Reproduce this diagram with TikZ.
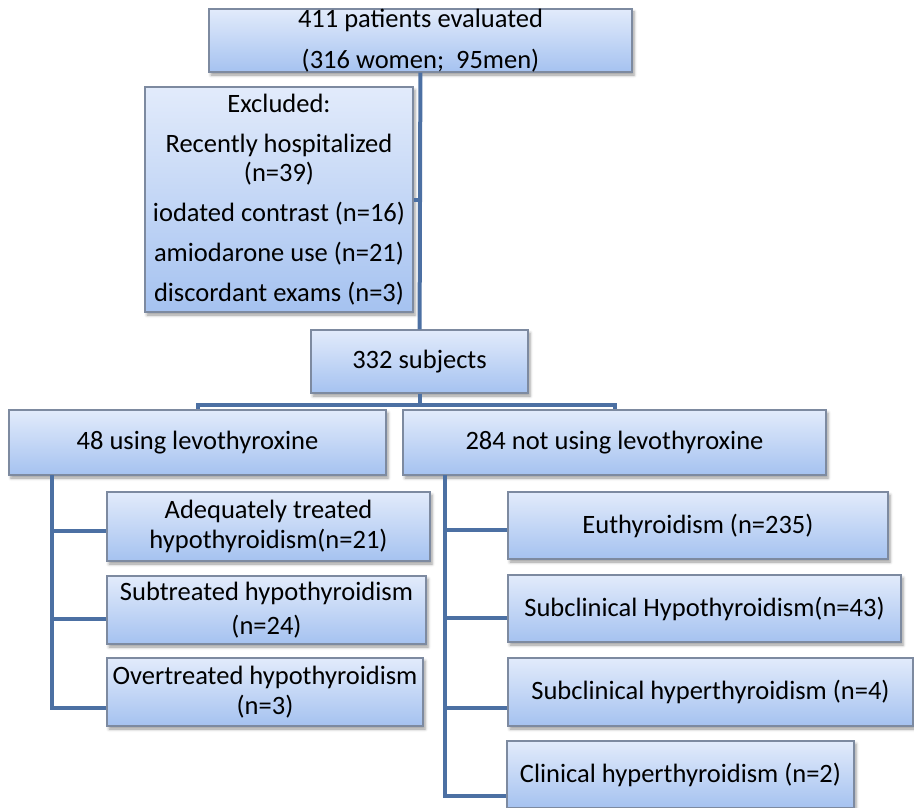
\documentclass[tikz,border=0pt]{standalone}
\usepackage{fontspec}
\setmainfont{Carlito}
\usetikzlibrary{positioning}
\usetikzlibrary{shadows.blur}
\definecolor{conncol}{RGB}{76,112,163}
\definecolor{boxtop}{RGB}{226,235,251}
\definecolor{boxbot}{RGB}{165,194,240}
\definecolor{boxedge}{RGB}{125,138,160}
\tikzset{
    % flow chart boxes
    box/.style = {draw=boxedge, line width=1.2pt, top color=boxtop, bottom color=boxbot,
                  align=center, inner sep=0pt, font=\fontsize{26.5}{30}\selectfont,
                  blur shadow={shadow xshift=2pt, shadow yshift=-3pt, shadow blur radius=3pt}},
    conn/.style = {draw=conncol, line width=4pt},
}
\begin{document}
\begin{tikzpicture}[x=1pt, y=-1pt]
  \useasboundingbox (0,0) rectangle (914,807);
  \node[box, minimum width=423pt, minimum height=62pt,
        font=\fontsize{26.5}{41}\selectfont] (eval) at (420.5,40.5)
        {411 patients evaluated\\(316 women;\ \ 95men)};
  \node[box, minimum width=268pt, minimum height=225pt,
        font=\fontsize{26.5}{40}\selectfont] (excl) at (279,199.5)
        {Excluded:\\Recently hospitalized\\[-11pt](n=39)\\iodated contrast (n=16)\\amiodarone use (n=21)\\discordant exams (n=3)};
  \node[box, minimum width=217pt, minimum height=63pt] (subj) at (419.5,361.5) {332 subjects};
  \node[box, minimum width=377pt, minimum height=65pt] (lev) at (197.5,442.5) {48 using levothyroxine};
  \node[box, minimum width=423pt, minimum height=65pt] (nolev) at (614.5,442.5) {284 not using levothyroxine};
  % levothyroxine users
  \node[box, minimum width=323pt, minimum height=69pt] (adeq) at (268.5,526.5) {Adequately treated\\hypothyroidism(n=21)};
  \node[box, minimum width=319pt, minimum height=68pt, font=\fontsize{26.5}{34}\selectfont] (subtr) at (266.5,610) {Subtreated hypothyroidism\\(n=24)};
  \node[box, minimum width=316pt, minimum height=68pt] (overtr) at (265,692) {Overtreated hypothyroidism\\(n=3)};
  % non users
  \node[box, minimum width=380pt, minimum height=67pt] (eu) at (698,525.5) {Euthyroidism (n=235)};
  \node[box, minimum width=393pt, minimum height=67pt] (subhypo) at (704.5,608.5) {Subclinical Hypothyroidism(n=43)};
  \node[box, minimum width=405pt, minimum height=68pt] (subhyper) at (710.5,692) {Subclinical hyperthyroidism (n=4)};
  \node[box, minimum width=347pt, minimum height=67pt] (clin) at (680.5,774.5) {Clinical hyperthyroidism (n=2)};

  \coordinate (split) at (419.5,405);
  \coordinate (ltrunk) at (52,475);
  \coordinate (rtrunk) at (445,475);

  \draw[conn] (eval) -- (subj);
  \draw[conn] (excl.east) -- (excl.east -| eval.south);
  \draw[conn] (subj) -- (split);
  \draw[conn] (split) -| (lev.north);
  \draw[conn] (split) -| (nolev.north);
  \foreach \b/\s in {adeq/-4, subtr/-9, overtr/-16}
    \draw[conn] (ltrunk) |- ([yshift=\s pt]\b.west);
  \foreach \b/\s in {eu/-4, subhypo/-9, subhyper/-16, clin/-21}
    \draw[conn] (rtrunk) |- ([yshift=\s pt]\b.west);
\end{tikzpicture}
\end{document}
